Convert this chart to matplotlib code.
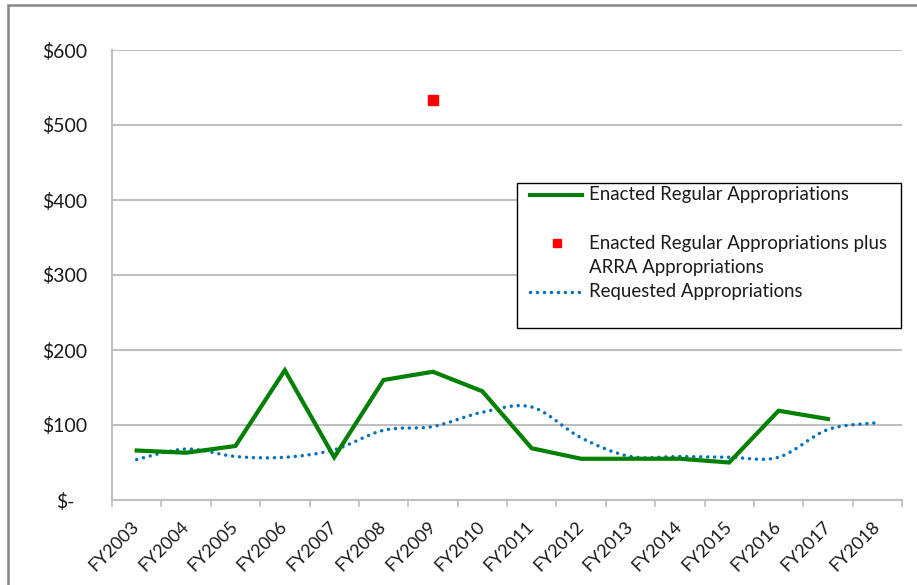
# Appropriations chart: enacted vs requested, FY2003-FY2018

import numpy
import matplotlib
matplotlib.use('Agg')
import matplotlib.pyplot as plt
import matplotlib.transforms as mtransforms
from matplotlib.path import Path
from matplotlib.patches import PathPatch, Rectangle
from matplotlib.lines import Line2D

plt.rcParams['font.family'] = ['Lato', 'DejaVu Sans']

years = ['FY2003','FY2004','FY2005','FY2006','FY2007','FY2008','FY2009','FY2010',
         'FY2011','FY2012','FY2013','FY2014','FY2015','FY2016','FY2017','FY2018']
enacted = [66, 63, 72, 173, 57, 160, 171, 145, 69, 55, 55, 55, 50, 119, 108]
requested = [54, 68, 58, 57, 67, 93, 98, 117, 124, 83, 58, 58, 57, 57, 94, 103]
arra_year = 'FY2009'
arra_value = 533
yticks = [0, 100, 200, 300, 400, 500, 600]
ytick_labels = ['$-', '$100', '$200', '$300', '$400', '$500', '$600']

green = '#008000'
blue = '#0070C0'
grid = '#BFBFBF'


def smooth_path(x, y, t=1/6.):
    # excel-style smoothed line: cubic bezier through every point
    pts = numpy.column_stack([x, y]).astype(float)
    verts = [pts[0]]
    codes = [Path.MOVETO]
    n = len(pts)
    for i in range(n-1):
        p0 = pts[i-1] if i > 0 else pts[i]
        p1 = pts[i]
        p2 = pts[i+1]
        p3 = pts[i+2] if i+2 < n else pts[i+1]
        verts += [p1 + (p2-p0)*t, p2 - (p3-p1)*t, p2]
        codes += [Path.CURVE4]*3
    return Path(verts, codes)


fig = plt.figure(figsize=[9.17, 5.85], dpi=100)
ax = fig.add_axes([112/917., 1-500/585., 790/917., 450/585.])

xr = numpy.arange(len(years))
ax.plot(xr[:len(enacted)], enacted, '-', color=green, lw=3, solid_joinstyle='miter', zorder=3)
ax.add_patch(PathPatch(smooth_path(xr, requested), fill=False, edgecolor=blue, lw=2.5,
                       linestyle=(0, (0.01, 2.0)), capstyle='round', zorder=2))
ax.plot([years.index(arra_year)], [arra_value], 's', color='red', ms=7, mec='red', zorder=4)

ax.set_xlim(-0.5, len(years)-0.5)
ax.set_ylim(0, 600)
ax.set_yticks(yticks)
ax.set_yticklabels(ytick_labels, fontsize=14, color='#1a1a1a')
ax.tick_params(axis='y', length=0, pad=18)
ax.set_xticks(xr)
ax.set_xticklabels(years, fontsize=13, rotation=45, ha='right', va='center',
                   rotation_mode='anchor', color='#1a1a1a')
ax.tick_params(axis='x', which='major', length=0, pad=17)
ax.set_xticks(numpy.arange(-0.5, len(years)), minor=True)
ax.tick_params(axis='x', which='minor', length=5, color=grid, width=1.2)
ax.yaxis.grid(True, color=grid, lw=1.5)
ax.set_axisbelow(True)
for s in ['top', 'right']:
    ax.spines[s].set_visible(False)
for s in ['left', 'bottom']:
    ax.spines[s].set_color(grid)
    ax.spines[s].set_linewidth(1.5)

# accounting format: "$-" sits further left of the axis than the numbers
zero_lab = ax.yaxis.get_major_ticks()[0].label1
zero_lab.set_transform(zero_lab.get_transform() +
                       mtransforms.ScaledTranslation(-12/100., 0, fig.dpi_scale_trans))

# legend drawn by hand to match the spacing of the original
lx0, ly0, lx1, ly1 = 517/917., 1-328/585., 901/917., 1-183/585.
fig.patches.append(Rectangle((lx0, ly0), lx1-lx0, ly1-ly0, transform=fig.transFigure,
                             facecolor='white', edgecolor='black', lw=1, zorder=5))
tx = 589/917.
fig.lines.append(Line2D([530/917., 582/917.], [1-195/585.]*2, transform=fig.transFigure,
                        color=green, lw=3, zorder=6))
fig.lines.append(Line2D([557/917.], [1-243/585.], transform=fig.transFigure, marker='s',
                        color='red', ms=6, zorder=6))
fig.lines.append(Line2D([530/917., 580/917.], [1-292/585.]*2, transform=fig.transFigure,
                        color=blue, lw=2.5, linestyle=(0, (0.01, 2.0)),
                        dash_capstyle='round', zorder=6))
for yy, txt in [(195, 'Enacted Regular Appropriations'),
                (243, 'Enacted Regular Appropriations plus'),
                (268, 'ARRA Appropriations'),
                (292, 'Requested Appropriations')]:
    fig.text(tx, 1-yy/585., txt, fontsize=13.4, va='center', ha='left', zorder=7, color='#1a1a1a')

# outer chart border (cut off at the right and bottom in the original)
fig.patches.append(Rectangle((8/917., -0.05), 1.2, 1-5/585.+0.05, transform=fig.transFigure,
                             facecolor='none', edgecolor='#868686', lw=1.8, zorder=8))

plt.savefig('out.png', dpi=100)
